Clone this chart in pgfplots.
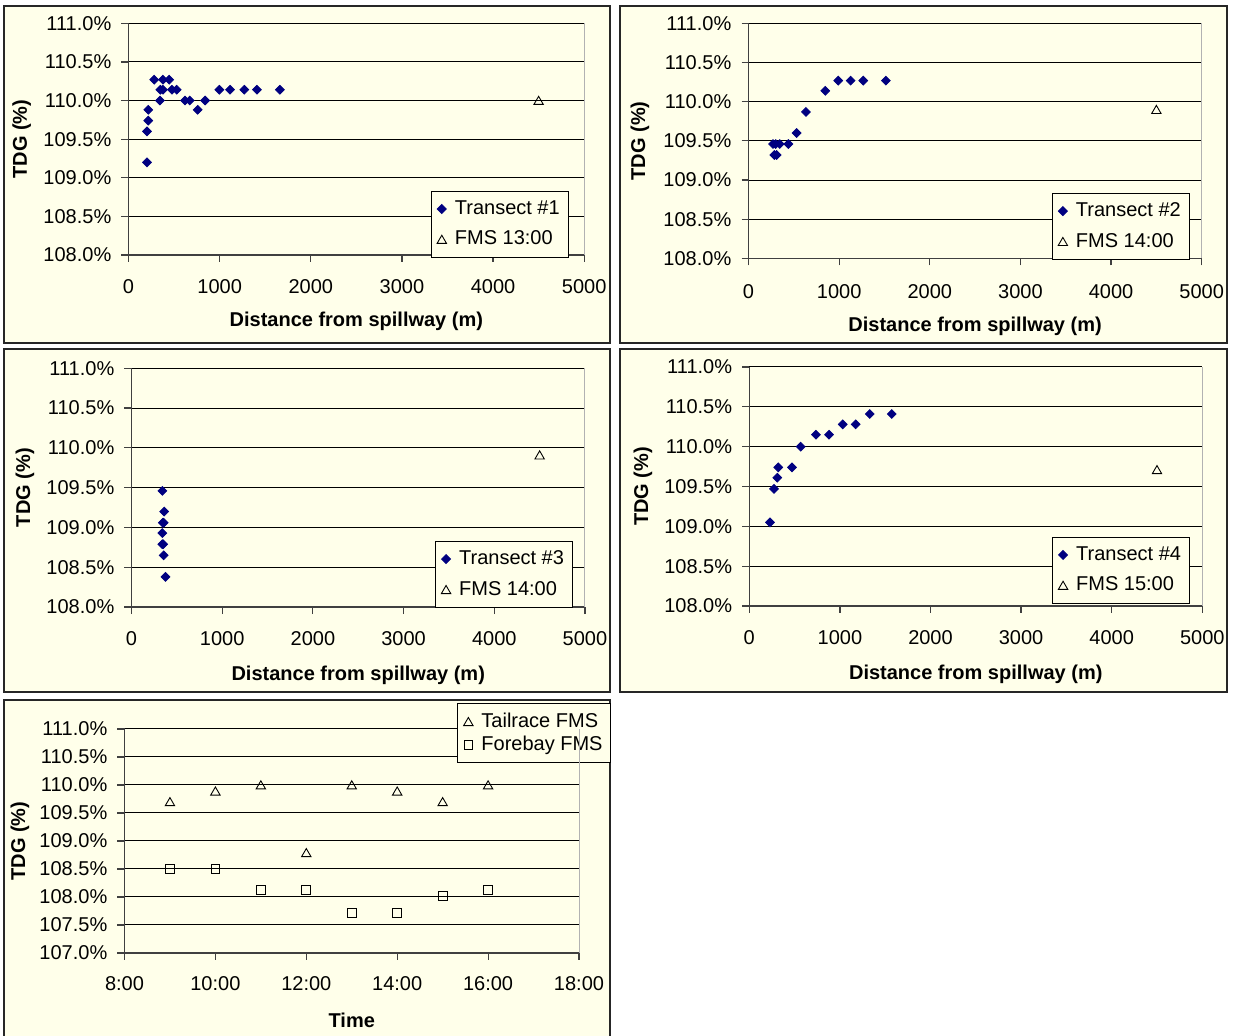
\documentclass[border=0pt]{standalone}
\usepackage{fontspec}
\setmainfont{Liberation Sans}
\usepackage{pgfplots}
\pgfplotsset{compat=1.18}
\definecolor{cream}{HTML}{FFFFEA}
\definecolor{navyb}{HTML}{000080}
\newcommand{\f}{\fontsize{10}{12}\selectfont}
\pgfplotsset{
 panel/.style={
  scale only axis, anchor=north west, clip=false,
  axis x line*=bottom, axis y line*=left,
  axis line style={black!75, line width=0.6pt, -},
  xtick pos=bottom, ytick pos=left,
  tick align=outside, major tick length=3.5pt,
  tick style={black!75, line width=0.6pt},
  ymajorgrids, grid style={black, line width=0.5pt},
  ymin=108, ymax=111,
  ytick={108,108.5,109,109.5,110,110.5,111},
  yticklabels={108.0\%,108.5\%,109.0\%,109.5\%,110.0\%,110.5\%,111.0\%},
  xmin=0, xmax=5000, xtick={0,1000,2000,3000,4000,5000},
  xticklabels={0,1000,2000,3000,4000,5000},
  ticklabel style={font=\f},
  xticklabel style={anchor=center, yshift=-12.3pt},
  yticklabel style={anchor=east, inner xsep=0pt, xshift=-4.9pt},
  label style={font=\f\bfseries},
  xlabel={Distance from spillway (m)}, ylabel={TDG (\%)},
  legend cell align=left,
  legend image code/.code={\draw[mark repeat=2,mark phase=2,##1] plot coordinates {(0pt,0pt) (1pt,0pt) (2pt,0pt)};},
  legend style={draw=black, line width=0.5pt, fill=cream, font=\f, anchor=north west,
    inner xsep=3pt, inner ysep=2.7pt, nodes={inner xsep=1.2pt, inner ysep=2pt},
    column sep=3pt, row sep=2.8pt},
  extra description/.code={\draw[black!30, line width=0.5pt] (axis description cs:1,0) -- (axis description cs:1,1);},
 },
 diam/.style={only marks, mark=square*, mark size=1.55pt, mark options={rotate=45, fill=navyb, draw=navyb}},
 tri/.style={only marks, mark=triangle, mark size=2.7pt, mark options={draw=black, fill=none, line width=0.45pt, yshift=-0.6pt}},
 sq/.style={only marks, mark=square, mark size=2.2pt, mark options={draw=black, line width=0.45pt}},
}
\begin{document}
\begin{tikzpicture}
\useasboundingbox (0pt,0pt) rectangle (616.5pt,-518pt);
\fill[white] (0pt,0pt) rectangle (616.5pt,-518pt);
\filldraw[fill=cream, draw=black!85, line width=0.6pt] (2pt,-3pt) rectangle (305pt,-171.5pt);
\filldraw[fill=cream, draw=black!85, line width=0.6pt] (310pt,-3pt) rectangle (613.5pt,-171.5pt);
\filldraw[fill=cream, draw=black!85, line width=0.6pt] (2pt,-174.5pt) rectangle (305pt,-346pt);
\filldraw[fill=cream, draw=black!85, line width=0.6pt] (310pt,-174.5pt) rectangle (613.5pt,-346pt);
\fill[cream] (2pt,-350pt) rectangle (305pt,-520pt);
\draw[black!85, line width=0.6pt] (2pt,-521pt) -- (2pt,-350pt) -- (305pt,-350pt) -- (305pt,-521pt);

% Panel 1
\begin{axis}[panel, at={(64.25pt,-11.65pt)}, width=227.85pt, height=115.85pt,
  ylabel style={at={(axis description cs:-0.2344,0.5)}, anchor=center},
  xlabel style={at={(axis description cs:0.5,-0.288)}, anchor=center},
  legend style={at={(axis description cs:0.663,0.2775)}}]
\addplot[diam] coordinates {
(203,109.20) (203,109.60) (217,109.74) (217,109.88) (282,110.27) (345,110.00)
(350,110.14) (378,110.14) (378,110.27) (446,110.27) (477,110.14) (529,110.14)
(620,110.00) (672,110.00) (759,109.88) (841,110.00) (997,110.14) (1114,110.14)
(1271,110.14) (1409,110.14) (1661,110.14)};
\addlegendentry{Transect \#1}
\addplot[tri] coordinates {(4500,110.00)};
\addlegendentry{FMS 13:00}
\end{axis}

% Panel 2
\begin{axis}[panel, at={(374.25pt,-11.75pt)}, width=226.6pt, height=117.4pt,
  xticklabel style={yshift=-0.8pt},
  ylabel style={at={(axis description cs:-0.2394,0.5)}, anchor=center},
  xlabel style={at={(axis description cs:0.5,-0.288)}, anchor=center},
  legend style={at={(axis description cs:0.669,0.2794)}}]
\addplot[diam] coordinates {
(270,109.46) (300,109.46) (345,109.46) (440,109.46) (285,109.32) (310,109.32)
(531,109.60) (634,109.87) (847,110.14) (990,110.27) (1127,110.27) (1266,110.27)
(1516,110.27)};
\addlegendentry{Transect \#2}
\addplot[tri] coordinates {(4500,109.90)};
\addlegendentry{FMS 14:00}
\end{axis}

% Panel 3
\begin{axis}[panel, at={(65.75pt,-184.15pt)}, width=226.75pt, height=119.4pt,
  ylabel style={at={(axis description cs:-0.2348,0.5)}, anchor=center},
  xlabel style={at={(axis description cs:0.5,-0.284)}, anchor=center},
  legend style={at={(axis description cs:0.669,0.278)}}]
\addplot[diam] coordinates {
(340,109.46) (360,109.20) (355,109.06) (345,109.06) (340,108.93) (340,108.79)
(350,108.79) (355,108.65) (375,108.38)};
\addlegendentry{Transect \#3}
\addplot[tri] coordinates {(4500,109.91)};
\addlegendentry{FMS 14:00}
\end{axis}

% Panel 4
\begin{axis}[panel, at={(374.65pt,-183.5pt)}, width=226.5pt, height=119.5pt,
  ylabel style={at={(axis description cs:-0.2347,0.5)}, anchor=center},
  xlabel style={at={(axis description cs:0.5,-0.2845)}, anchor=center},
  legend style={at={(axis description cs:0.668,0.29)}}]
\addplot[diam] coordinates {
(228,109.05) (273,109.47) (309,109.61) (320,109.74) (471,109.74) (567,110.00)
(736,110.15) (880,110.15) (1031,110.28) (1174,110.28) (1329,110.41) (1572,110.41)};
\addlegendentry{Transect \#4}
\addplot[tri] coordinates {(4500,109.71)};
\addlegendentry{FMS 15:00}
\end{axis}

% Panel 5
\begin{axis}[panel, at={(62.25pt,-364.5pt)}, width=227.25pt, height=112pt,
  ymin=107, ymax=111,
  ytick={107,107.5,108,108.5,109,109.5,110,110.5,111},
  yticklabels={107.0\%,107.5\%,108.0\%,108.5\%,109.0\%,109.5\%,110.0\%,110.5\%,111.0\%},
  xmin=8, xmax=18, xtick={8,10,12,14,16,18},
  xticklabels={8:00,10:00,12:00,14:00,16:00,18:00},
  xticklabel style={yshift=0.6pt},
  xlabel={Time},
  ylabel style={at={(axis description cs:-0.23,0.5)}, anchor=center},
  xlabel style={at={(axis description cs:0.5,-0.299)}, anchor=center},
  legend style={at={(axis description cs:0.732,1.116)}, row sep=-1.2pt}]
\addplot[tri] coordinates {
(9,109.70) (10,109.89) (11,110.00) (12,108.79) (13,110.00) (14,109.89) (15,109.70) (16,110.00)};
\addlegendentry{Tailrace FMS}
\addplot[sq] coordinates {
(9,108.50) (10,108.50) (11,108.12) (12,108.12) (13,107.72) (14,107.72) (15,108.02) (16,108.12)};
\addlegendentry{Forebay FMS}
\end{axis}
\end{tikzpicture}
\end{document}
